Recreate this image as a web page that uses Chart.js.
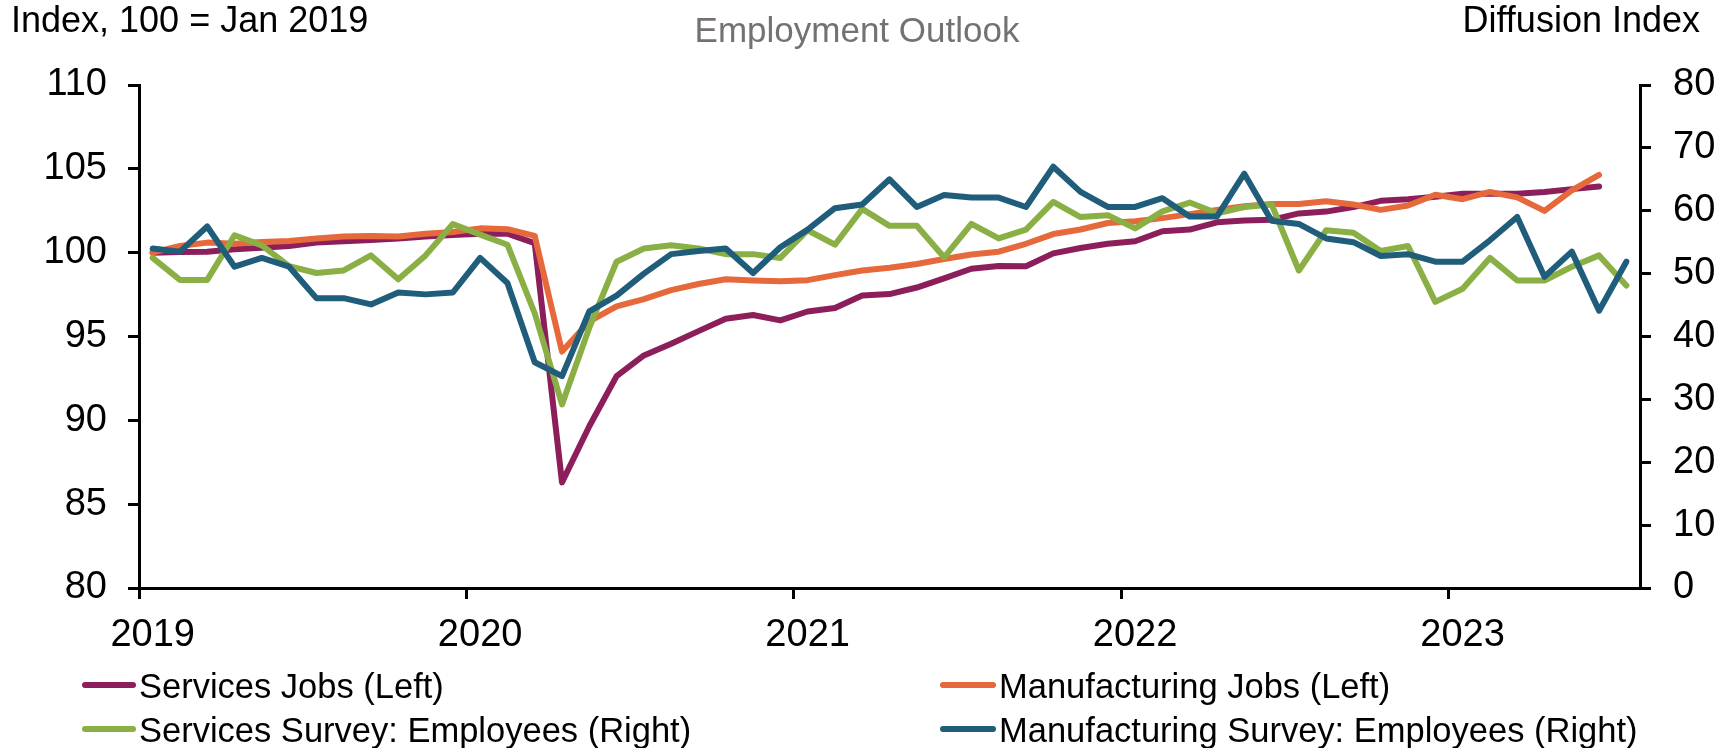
<!DOCTYPE html>
<html>
<head>
<meta charset="utf-8">
<script src="https://cdn.jsdelivr.net/npm/chart.js@4.4.1/dist/chart.umd.min.js"></script>
<style>
  html, body { margin: 0; padding: 0; background: #fff; }
  #wrap { position: relative; width: 1735px; height: 748px; overflow: hidden; font-family: "Liberation Sans", Arial, sans-serif; }
  #c { position: absolute; left: 0; top: 0; }
  .lbl { position: absolute; white-space: nowrap; font-size: 34.5px; line-height: 34px; color: #000; }
  .sw { position: absolute; height: 6px; border-radius: 3px; }
</style>
</head>
<body>
<div id="wrap">
  <canvas id="c" width="1735" height="748"></canvas>
  <div class="lbl" id="leftTitle" style="left:11px; top:3px; font-size:36px;">Index, 100 = Jan 2019</div>
  <div class="lbl" id="mainTitle" style="left:0; width:1714px; text-align:center; top:13px; color:#767171; font-size:35px;">Employment Outlook</div>
  <div class="lbl" id="rightTitle" style="right:35px; top:3px; font-size:36px;">Diffusion Index</div>
  <div id="legend"></div>
</div>
<script>
// ---- Data ----
const months = [
  '2019-01','2019-02','2019-03','2019-04','2019-05','2019-06','2019-07','2019-08','2019-09','2019-10','2019-11','2019-12',
  '2020-01','2020-02','2020-03','2020-04','2020-05','2020-06','2020-07','2020-08','2020-09','2020-10','2020-11','2020-12',
  '2021-01','2021-02','2021-03','2021-04','2021-05','2021-06','2021-07','2021-08','2021-09','2021-10','2021-11','2021-12',
  '2022-01','2022-02','2022-03','2022-04','2022-05','2022-06','2022-07','2022-08','2022-09','2022-10','2022-11','2022-12',
  '2023-01','2023-02','2023-03','2023-04','2023-05','2023-06','2023-07'
];

const servicesJobs = [
  100.0, 100.04, 100.06, 100.2, 100.3, 100.4, 100.6, 100.68, 100.75, 100.85, 100.96, 101.06,
  101.13, 101.13, 100.57, 86.3, 89.65, 92.64, 93.87, 94.57, 95.32, 96.06, 96.28, 95.96,
  96.49, 96.7, 97.45, 97.53, 97.92, 98.47, 99.04, 99.21, 99.19, 99.96, 100.28, 100.53,
  100.68, 101.28, 101.38, 101.81, 101.92, 101.96, 102.34, 102.45, 102.72, 103.09, 103.19, 103.34,
  103.51, 103.51, 103.51, 103.62, 103.79, 103.94, null
];

const manufacturingJobs = [
  100.0, 100.4, 100.6, 100.53, 100.64, 100.7, 100.85, 100.96, 101.0, 100.96, 101.13, 101.23,
  101.45, 101.4, 101.0, 94.1, 95.9, 96.8, 97.23, 97.77, 98.13, 98.41, 98.34, 98.3,
  98.36, 98.66, 98.94, 99.1, 99.32, 99.62, 99.89, 100.06, 100.53, 101.11, 101.38, 101.77,
  101.87, 102.06, 102.3, 102.55, 102.77, 102.9, 102.9, 103.07, 102.87, 102.55, 102.81, 103.45,
  103.19, 103.62, 103.3, 102.49, 103.72, 104.64, null
];

const servicesSurvey = [
  52.5, 49.0, 49.0, 56.1, 54.5, 51.2, 50.1, 50.5, 52.9, 49.1, 52.9, 57.9,
  56.2, 54.6, 43.7, 29.2, 41.4, 51.9, 54.0, 54.5, 54.0, 53.1, 53.1, 52.5,
  56.9, 54.6, 60.3, 57.6, 57.6, 52.6, 57.9, 55.6, 57.0, 61.4, 59.0, 59.3,
  57.2, 59.9, 61.3, 59.6, 60.6, 61.0, 50.5, 56.9, 56.5, 53.6, 54.4, 45.5,
  47.6, 52.5, 48.9, 48.9, 51.1, 52.9, 48.1
];

const manufacturingSurvey = [
  54.0, 53.5, 57.5, 51.1, 52.5, 51.1, 46.1, 46.1, 45.1, 47.0, 46.7, 47.0,
  52.5, 48.5, 35.9, 33.7, 44.0, 46.5, 50.0, 53.1, 53.6, 54.0, 50.1, 54.2,
  57.0, 60.4, 61.0, 65.0, 60.6, 62.5, 62.1, 62.1, 60.6, 67.0, 63.0, 60.6,
  60.6, 62.0, 59.1, 59.1, 65.9, 58.4, 57.9, 55.6, 55.0, 52.8, 53.1, 51.9,
  51.9, 55.3, 59.0, 49.5, 53.5, 44.1, 51.9
];

const seriesNames = [
  'Services Jobs (Left)',
  'Manufacturing Jobs (Left)',
  'Services Survey: Employees (Right)',
  'Manufacturing Survey: Employees (Right)'
];
const seriesColors = ['#8C1F5B', '#E6693B', '#8AAF45', '#1F5D7B'];

// ---- Chart ----
const FONT = '"Liberation Sans", Arial, sans-serif';
function ds(i, data, axis, order) {
  return {
    label: seriesNames[i], data: data, yAxisID: axis,
    borderColor: seriesColors[i], backgroundColor: seriesColors[i],
    borderWidth: 6, pointRadius: 0, pointHoverRadius: 0, tension: 0,
    borderJoinStyle: 'round', borderCapStyle: 'round', fill: false, order: order
  };
}

const chart = new Chart(document.getElementById('c'), {
  type: 'line',
  data: {
    labels: months,
    datasets: [
      ds(0, servicesJobs, 'y', 4),
      ds(1, manufacturingJobs, 'y', 3),
      ds(2, servicesSurvey, 'y1', 2),
      ds(3, manufacturingSurvey, 'y1', 1)
    ]
  },
  options: {
    responsive: false,
    animation: false,
    devicePixelRatio: 1,
    layout: { padding: { top: 85, bottom: 100, left: 0, right: 0 } },
    plugins: { legend: { display: false }, tooltip: { enabled: false }, title: { display: false } },
    scales: {
      x: {
        type: 'category',
        offset: true,
        grid: {
          offset: true, drawOnChartArea: false, drawTicks: true, tickLength: 11, lineWidth: 3,
          color: (c) => (c.tick && c.index % 12 === 0) ? '#000' : 'rgba(0,0,0,0)'
        },
        border: { display: true, color: '#000', width: 3 },
        ticks: {
          autoSkip: false, maxRotation: 0, minRotation: 0, padding: 14,
          color: '#000', font: { family: FONT, size: 38 },
          callback: function (v, i) { const m = months[i]; return m.endsWith('-01') ? m.slice(0, 4) : ''; }
        },
        afterFit: (s) => { s.height = 60; }
      },
      y: {
        position: 'left', min: 80, max: 110,
        grid: { drawOnChartArea: false, drawTicks: true, tickLength: 11, lineWidth: 3, color: '#000' },
        border: { display: true, color: '#000', width: 3 },
        ticks: { stepSize: 5, padding: 21, color: '#000', font: { family: FONT, size: 38 } },
        afterFit: (s) => { s.width = 139; }
      },
      y1: {
        position: 'right', min: 0, max: 80,
        grid: { drawOnChartArea: false, drawTicks: true, tickLength: 11, lineWidth: 3, color: '#000' },
        border: { display: true, color: '#000', width: 3 },
        ticks: { stepSize: 10, padding: 22, color: '#000', font: { family: FONT, size: 38 } },
        afterFit: (s) => { s.width = 95; }
      }
    }
  }
});

// ---- HTML legend built from the chart's datasets ----
(function buildLegend() {
  const pos = [
    { sx: 82, tx: 139, top: 669, cy: 685 },
    { sx: 940, tx: 999, top: 669, cy: 685 },
    { sx: 82, tx: 139, top: 713, cy: 729 },
    { sx: 940, tx: 999, top: 713, cy: 729 }
  ];
  const host = document.getElementById('legend');
  chart.data.datasets.forEach((d, i) => {
    const p = pos[i];
    const sw = document.createElement('div');
    sw.className = 'sw';
    sw.style.left = p.sx + 'px';
    sw.style.width = (p.tx - p.sx - 3) + 'px';
    sw.style.top = (p.cy - 3) + 'px';
    sw.style.background = d.borderColor;
    host.appendChild(sw);
    const t = document.createElement('div');
    t.className = 'lbl';
    t.style.left = p.tx + 'px';
    t.style.top = p.top + 'px';
    t.textContent = d.label;
    host.appendChild(t);
  });
})();
</script>
</body>
</html>
